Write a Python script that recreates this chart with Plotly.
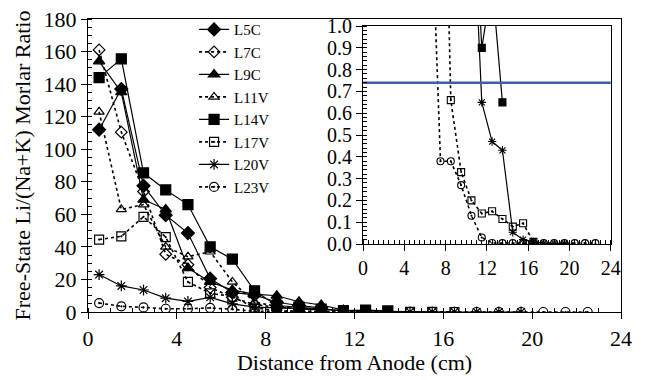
import plotly.graph_objects as go

# ---- data (distance from anode, cm; section midpoints) ----
L5C = [112, 137, 77.5, 59.5, 48.5, 20.5, 12, 10.5, 6, 4, 2.5]
L7C = [161, 110.5, 74, 35.5, 29, 15, 9, 4.5, 3, 2, 1.5]
L9C = [154, 135, 69, 63, 27, 18.5, 13.5, 11, 10, 6.3, 4.3, 1.2]
L11V = [123, 63, 66, 40, 34, 37, 18.5, 6, 3.5, 2, 1.3]
L14V = [144, 155.5, 85.5, 75, 66, 40, 32.5, 13, 4, 3, 1.8, 0.9, 1.2, 0.65]
L17V = [44.5, 46.5, 58.5, 46, 18.5, 11.5, 9.5, 2.7, 0.66, 0.33, 0.2, 0.14,
        0.15, 0.115, 0.08, 0.095, 0.01]
L20V = [23, 16, 13.5, 8.5, 6.5, 9, 5, 3, 2.5, 2, 1.7, 0.65, 0.47, 0.43,
        0.054, 0.02, 0.01, 0.004, 0.003, 0.003]
L23V = [5.5, 3.5, 2.8, 2, 2, 2.5, 1.7, 0.38, 0.38, 0.27, 0.13, 0.03, 0.005,
        0.004, 0.004, 0.004, 0.004, 0.004, 0.004, 0.004, 0.004, 0.004, 0.004]
threshold = 0.74
threshold_x = [0, 24]

series = [
    ("L5C", L5C, "diamond", "solid", False),
    ("L7C", L7C, "diamond-open", "dot", False),
    ("L9C", L9C, "triangle-up", "solid", False),
    ("L11V", L11V, "triangle-up-open", "dot", False),
    ("L14V", L14V, "square", "solid", True),
    ("L17V", L17V, "square-open-dot", "dot", True),
    ("L20V", L20V, "asterisk-open", "solid", True),
    ("L23V", L23V, "circle-open-dot", "dot", True),
]

FONT = "Liberation Serif"
fig = go.Figure()

for name, vals, sym, dash, inset in series:
    xs = [0.5 + i for i in range(len(vals))]
    lw = 1.2 if dash == "solid" else 1.6
    fig.add_trace(go.Scatter(
        x=xs, y=vals, name=name, mode="lines+markers",
        line=dict(color="black", width=lw, dash=dash),
        marker=dict(symbol=sym, size=10 if "open" not in sym else 9,
                    color="black", line=dict(color="black", width=1.2)),
        xaxis="x", yaxis="y"))

for name, vals, sym, dash, inset in series:
    if not inset:
        continue
    xs = [0.5 + i for i in range(len(vals))]
    lw = 1.2 if dash == "solid" else 1.6
    fig.add_trace(go.Scatter(
        x=xs, y=vals, name=name, mode="lines+markers", showlegend=False,
        line=dict(color="black", width=lw, dash=dash),
        marker=dict(symbol=sym, size=7, color="black",
                    line=dict(color="black", width=1.1)),
        xaxis="x2", yaxis="y2"))

fig.add_trace(go.Scatter(
    x=threshold_x, y=[threshold, threshold], mode="lines", showlegend=False,
    line=dict(color="#3F5FAE", width=2.5), xaxis="x2", yaxis="y2"))


def axis_style(size):
    return dict(showline=True, linecolor="black", linewidth=1.2,
                mirror=True, showgrid=False, zeroline=False, automargin=False,
                ticks="outside", ticklen=6, tickwidth=1.2, tickcolor="black",
                tickfont=dict(family=FONT, size=size, color="black"))


fig.update_layout(
    width=647, height=380,
    margin=dict(l=88, r=26, t=19, b=68),
    paper_bgcolor="white", plot_bgcolor="white",
    font=dict(family=FONT, color="black"),
    xaxis=dict(range=[0, 24], dtick=4, tick0=0,
               minor=dict(dtick=1, ticks="inside", ticklen=4, tickcolor="black"),
               title=dict(text="Distance from Anode (cm)", standoff=1,
                          font=dict(family=FONT, size=22)),
               domain=[0, 1], anchor="y", **axis_style(22)),
    yaxis=dict(range=[0, 180], dtick=20, tick0=0,
               minor=dict(dtick=5, ticks="inside", ticklen=4, tickcolor="black"),
               title=dict(text="Free-State Li/(Na+K) Morlar Ratio", standoff=6,
                          font=dict(family=FONT, size=22)),
               domain=[0, 1], anchor="x", **axis_style(22)),
    xaxis2=dict(range=[0, 24], dtick=4, tick0=0,
                minor=dict(dtick=0.5, ticks="inside", ticklen=4, tickcolor="black"),
                domain=[0.516, 0.981], anchor="y2", **axis_style(20)),
    yaxis2=dict(range=[0, 1.0], dtick=0.1, tick0=0, tickformat=".1f",
                minor=dict(dtick=0.02, ticks="inside", ticklen=4, tickcolor="black"),
                domain=[0.232, 0.976], anchor="x2", **axis_style(20)),
    legend=dict(x=0.199, y=1.02, xanchor="left", yanchor="top",
                bgcolor="rgba(0,0,0,0)", borderwidth=0,
                font=dict(family=FONT, size=15, color="black")),
)

fig.write_html("out.html")
